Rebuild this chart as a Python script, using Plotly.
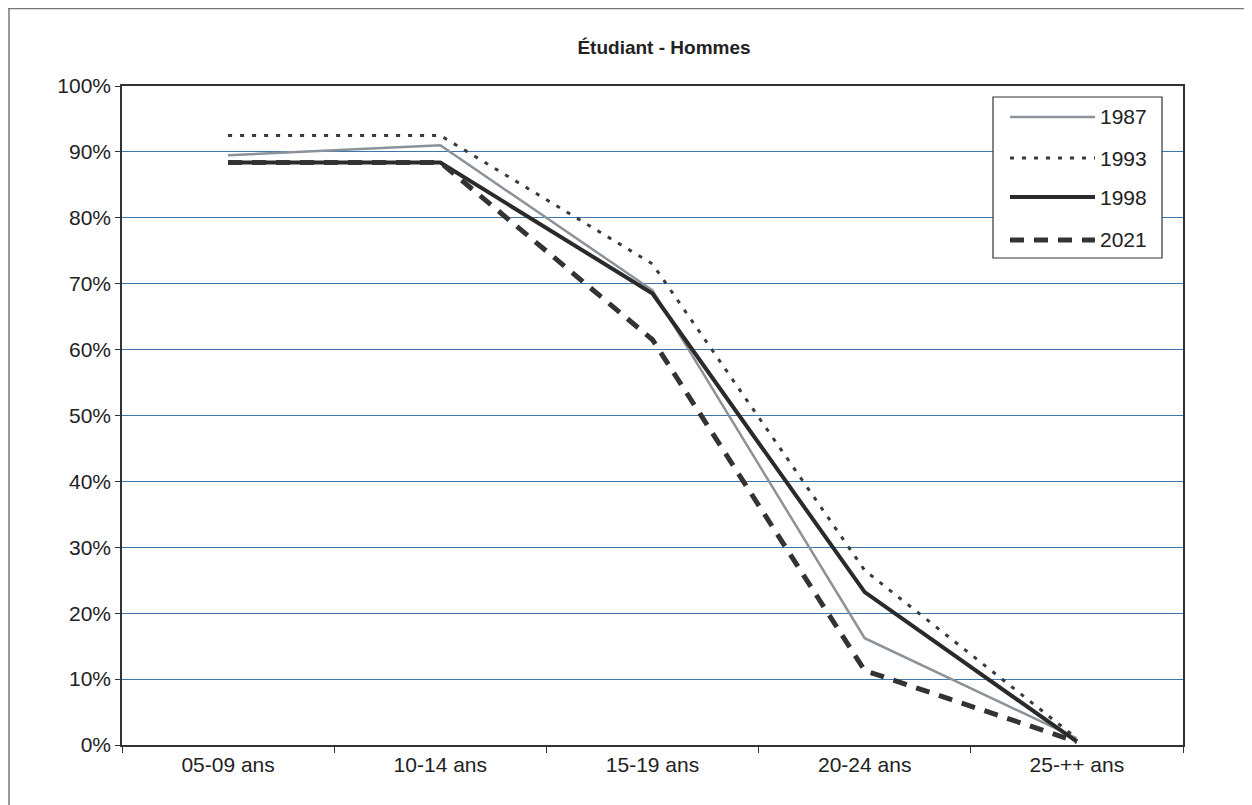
import plotly.graph_objects as go

categories = ["05-09 ans", "10-14 ans", "15-19 ans", "20-24 ans", "25-++ ans"]
years = ["1987", "1993", "1998", "2021"]
v1987 = [0.895, 0.91, 0.69, 0.162, 0.01]
v1993 = [0.925, 0.925, 0.73, 0.265, 0.01]
v1998 = [0.884, 0.884, 0.685, 0.232, 0.005]
v2021 = [0.884, 0.884, 0.615, 0.113, 0.005]
y_ticks = [0, 0.1, 0.2, 0.3, 0.4, 0.5, 0.6, 0.7, 0.8, 0.9, 1.0]

series = [v1987, v1993, v1998, v2021]
styles = [
    dict(color="#8c929a", width=2.5, dash="solid"),
    dict(color="#3a3a3a", width=3, dash="4px,8px"),
    dict(color="#2a2a2a", width=4, dash="solid"),
    dict(color="#333333", width=5, dash="14px,10px"),
]

fig = go.Figure()
for name, vals, st in zip(years, series, styles):
    fig.add_trace(go.Scatter(x=categories, y=vals, mode="lines", name=name, line=st,
                             showlegend=False))

font = "Liberation Sans, Arial, sans-serif"
# page body has an 8px offset; margins compensate so the plot sits at 122..1183 x 86..745
fig.update_layout(
    width=1252, height=805,
    margin=dict(l=114, r=77, t=78, b=68),
    paper_bgcolor="white", plot_bgcolor="white",
    title=dict(text="<b>Étudiant - Hommes</b>", x=(664 - 8) / 1252, xanchor="center",
               y=1 - (47 - 8) / 805, yanchor="middle",
               font=dict(family=font, size=19, color="#222")),
    font=dict(family=font, size=21, color="#222"),
    xaxis=dict(showgrid=False, ticks="outside", tickson="boundaries", ticklen=6, tickcolor="#333",
               range=[-0.5, 4.5],
               showline=True, linecolor="#333", linewidth=1.5, mirror=True,
               tickfont=dict(size=21, family=font, color="#222")),
    yaxis=dict(range=[0, 1.0], tickvals=y_ticks, tickformat=".0%", showgrid=True,
               gridcolor="#3f76ad", gridwidth=1, ticks="outside", ticklen=5, tickcolor="#333",
               showline=True, linecolor="#333", linewidth=1.5, mirror=True, zeroline=False,
               tickfont=dict(size=21, family=font, color="#222")),
)

PX0, PY0, PW, PH = 122, 745, 1061, 659
def px(x):
    return (x - PX0) / PW
def py(y):
    return (PY0 - y) / PH

# custom legend (long line samples as in the original)
fig.add_shape(type="rect", xref="paper", yref="paper",
              x0=px(993), x1=px(1162), y0=py(258), y1=py(97),
              line=dict(color="#333", width=1.2), fillcolor="white", layer="above")
leg_y = [117, 158, 197, 240]
for name, st, yy in zip(years, styles, leg_y):
    fig.add_shape(type="line", xref="paper", yref="paper",
                  x0=px(1010), x1=px(1095), y0=py(yy), y1=py(yy),
                  line=st, layer="above")
    fig.add_annotation(text=name, xref="paper", yref="paper", x=px(1098), y=py(yy),
                       xanchor="left", yanchor="middle", showarrow=False,
                       font=dict(family=font, size=21, color="#222"))

# outer frame (top and left edges of the scanned page)
fig.add_shape(type="line", xref="paper", yref="paper",
              x0=-114 / 1061, x1=(1252 - 122) / 1061 + 0.2, y0=(737 - 0.5) / 659, y1=(737 - 0.5) / 659,
              line=dict(color="#777", width=1.5))
fig.add_shape(type="line", xref="paper", yref="paper",
              x0=(-114 + 1) / 1061, x1=(-114 + 1) / 1061, y0=-70 / 659, y1=(737 - 0.5) / 659,
              line=dict(color="#777", width=1.5))
fig.write_html("out.html")
